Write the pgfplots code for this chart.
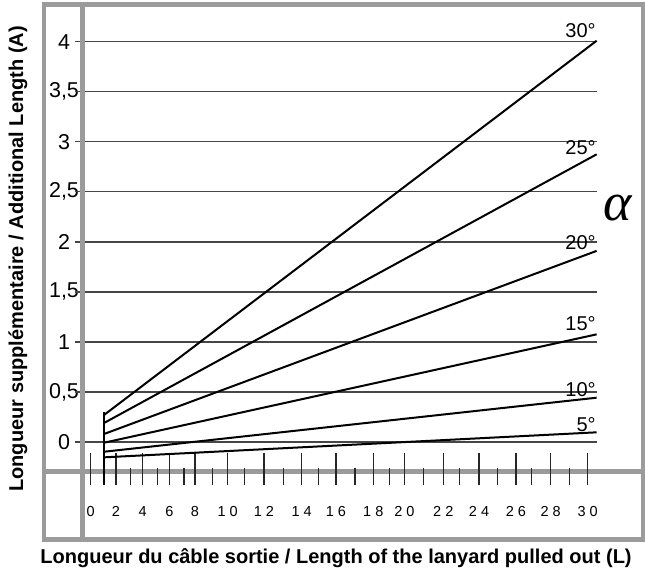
\documentclass[border=0pt]{standalone}
\usepackage{fontspec}
\setmainfont{Liberation Sans}
\newfontfamily\greekserif{Liberation Serif}
\usepackage{pgfplots}
\pgfplotsset{compat=1.18}
\definecolor{framegray}{RGB}{155,155,155}
\definecolor{gridgray}{RGB}{70,70,70}
\newcommand\spc[2]{#1\kern4pt#2}
\begin{document}
\begin{tikzpicture}
\path[use as bounding box] (-44pt,-39.5pt) rectangle (601pt,539.5pt);
\begin{axis}[
 at={(0,0)}, anchor=south west,
 x=16.5667pt, y=100.075pt,
 xmin=-2.819, xmax=33.338, ymin=-0.974, ymax=4.372,
 clip=false,
 axis line style={framegray, line width=4.5pt},
 major tick length=0pt,
 tick style={draw=none},
 ytick={0,0.5,1,1.5,2,2.5,3,3.5,4},
 yticklabels={0,{0,5},1,{1,5},2,{2,5},3,{3,5},4},
 yticklabel style={anchor=center, xshift=20pt, inner sep=0pt, font=\fontsize{21.5}{21.5}\selectfont},
 xtick={0,1.527,3.139,4.745,6.296,8.270,10.461,12.737,14.807,17.058,18.930,21.284,23.439,25.672,27.767,30},
 xticklabels={0,2,4,6,8,\spc10,\spc12,\spc14,\spc16,\spc18,\spc20,\spc22,\spc24,\spc26,\spc28,\spc30},
 xticklabel style={anchor=base, yshift=23.5pt, inner sep=0pt, text height=10pt, text depth=0pt, font=\fontsize{14.5}{14.5}\selectfont},
]
% grid lines
\pgfplotsinvokeforeach{0,0.5,1,1.5,2,2.5,3,3.5,4}{
  \draw[gridgray, line width=1.3pt] (axis cs:-0.948,#1) -- (axis cs:30.54,#1);
}
% inner frame lines
\draw[framegray, line width=5pt] (axis cs:-0.495,-0.974) -- (axis cs:-0.495,4.372);
\draw[framegray, line width=5pt] (axis cs:-2.819,-0.290) -- (axis cs:33.338,-0.290);
% long ticks
\pgfplotsinvokeforeach{0,1.527,3.139,4.745,6.296,8.270,10.461,12.737,14.807,17.058,18.930,21.284,23.439,25.672,27.767,30}{
  \draw[black!85, line width=1.3pt] (axis cs:#1,-0.110) -- (axis cs:#1,-0.430);
}
% short ticks
\pgfplotsinvokeforeach{2.414,4.020,5.632,7.364,9.272,11.626,13.738,15.954,18.024,20.076,22.249,24.567,26.620,28.889}{
  \draw[black!85, line width=1.3pt] (axis cs:#1,-0.260) -- (axis cs:#1,-0.430);
}
\addplot[black, line width=1.5pt] coordinates {(0.803,0.30) (0.803,-0.430)};
% lines
\addplot[black, line width=2pt] coordinates {(0.803,0.27) (30.54,4.01)}
  node[pos=1, anchor=base east, inner sep=0pt, yshift=3pt, font=\fontsize{20}{20}\selectfont] {30°};
\addplot[black, line width=2pt] coordinates {(0.803,0.19) (30.54,2.875)}
  node[pos=1, anchor=base east, inner sep=0pt, yshift=0pt, font=\fontsize{20}{20}\selectfont] {25°};
\addplot[black, line width=2pt] coordinates {(0.803,0.08) (30.54,1.91)}
  node[pos=1, anchor=base east, inner sep=0pt, yshift=1pt, font=\fontsize{20}{20}\selectfont] {20°};
\addplot[black, line width=2pt] coordinates {(0.803,-0.007) (30.54,1.076)}
  node[pos=1, anchor=base east, inner sep=0pt, yshift=4pt, font=\fontsize{20}{20}\selectfont] {15°};
\addplot[black, line width=2pt] coordinates {(0.803,-0.097) (30.54,0.443)}
  node[pos=1, anchor=base east, inner sep=0pt, yshift=1pt, font=\fontsize{20}{20}\selectfont] {10°};
\addplot[black, line width=2pt] coordinates {(0.803,-0.153) (30.54,0.097)}
  node[pos=1, anchor=base east, inner sep=0pt, yshift=1pt, font=\fontsize{20}{20}\selectfont] {5°};
% alpha
\node[inner sep=0pt] at (axis cs:31.83,2.338) {\greekserif\itshape\fontsize{54}{54}\selectfont α};
% axis titles
\node[rotate=90, font=\bfseries\fontsize{20}{20}\selectfont] at (axis cs:-4.388,1.83) {Longueur supplémentaire / Additional Length (A)};
\node[font=\bfseries\fontsize{20}{20}\selectfont] at (axis cs:14.81,-1.16) {Longueur du câble sortie / Length of the lanyard pulled out (L)};
\end{axis}
\end{tikzpicture}
\end{document}
